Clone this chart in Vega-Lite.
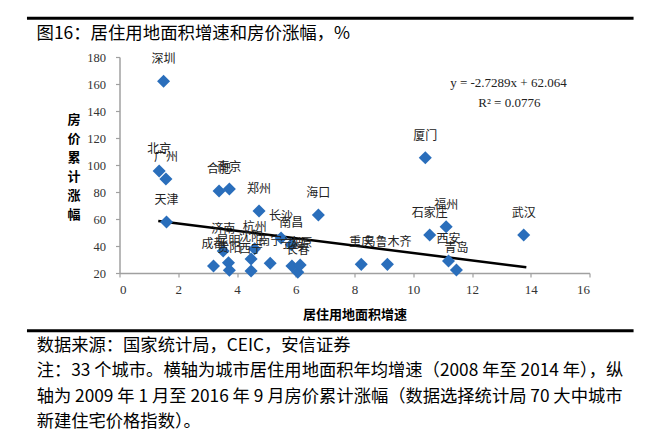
{
  "$schema": "https://vega.github.io/schema/vega-lite/v6.json",
  "autosize": {"type": "none"},
  "width": 470,
  "height": 216,
  "padding": {"left": 119.5, "top": 57, "right": 73.5, "bottom": 172},
  "background": "white",
  "config": {
    "view": {"stroke": null},
    "axis": {
      "grid": false,
      "domainColor": "#a0a0a0",
      "domainWidth": 1.5,
      "tickColor": "#a0a0a0",
      "tickWidth": 1.2,
      "tickSize": 4,
      "labelFont": "Liberation Serif",
      "labelFontSize": 13,
      "labelColor": "#333333",
      "labelOverlap": false,
      "titleFont": "Noto Sans CJK SC",
      "titleFontWeight": "bold",
      "titleFontSize": 13,
      "titleColor": "#000000"
    },
    "text": {"font": "Noto Sans CJK SC"}
  },
  "title": {
    "text": "图16：居住用地面积增速和房价涨幅，%",
    "anchor": "start",
    "frame": "group",
    "dx": -83,
    "dy": 35,
    "fontSize": 17.4,
    "font": "Noto Sans CJK SC",
    "fontWeight": "normal",
    "color": "#000000",
    "offset": 9
  },
  "datasets": {
    "cities": [
      {"city": "深圳", "growth": 1.5, "price": 162},
      {"city": "北京", "growth": 1.35, "price": 95.6},
      {"city": "广州", "growth": 1.58, "price": 89.6},
      {"city": "天津", "growth": 1.6, "price": 57.8},
      {"city": "合肥", "growth": 3.39, "price": 80.7},
      {"city": "南京", "growth": 3.74, "price": 82.2},
      {"city": "郑州", "growth": 4.75, "price": 66},
      {"city": "海口", "growth": 6.77, "price": 63},
      {"city": "厦门", "growth": 10.41, "price": 105.4},
      {"city": "福州", "growth": 11.12, "price": 54.3},
      {"city": "石家庄", "growth": 10.56, "price": 48.1},
      {"city": "武汉", "growth": 13.76, "price": 48.1},
      {"city": "西安", "growth": 11.2, "price": 28.9},
      {"city": "青岛", "growth": 11.47, "price": 22.2},
      {"city": "重庆", "growth": 8.23, "price": 26.4},
      {"city": "乌鲁木齐", "growth": 9.12, "price": 26.4},
      {"city": "济南", "growth": 3.53, "price": 36.3},
      {"city": "杭州", "growth": 4.6, "price": 38},
      {"city": "成都", "growth": 3.2, "price": 25.2},
      {"city": "昆明", "growth": 3.71, "price": 27.6},
      {"city": "贵阳", "growth": 3.74, "price": 22},
      {"city": "沈阳", "growth": 4.48, "price": 30.4},
      {"city": "西宁", "growth": 4.48, "price": 21.5},
      {"city": "南宁", "growth": 5.13, "price": 27.2},
      {"city": "宁波", "growth": 5.87, "price": 25.2},
      {"city": "长春", "growth": 6.07, "price": 20.5},
      {"city": "太原", "growth": 6.15, "price": 25.9},
      {"city": "长沙", "growth": 5.5, "price": 46},
      {"city": "南昌", "growth": 5.85, "price": 41}
    ],
    "trend": [
      {"growth": 1.32, "price": 58.5},
      {"growth": 13.85, "price": 24.3}
    ],
    "one": [{}]
  },
  "layer": [
    {
      "data": {"name": "trend"},
      "mark": {"type": "line", "color": "#000000", "strokeWidth": 2.5},
      "encoding": {
        "x": {
          "field": "growth", "type": "quantitative",
          "scale": {"domain": [0, 16], "nice": false},
          "axis": {
            "values": [0, 2, 4, 6, 8, 10, 12, 14, 16],
            "title": "居住用地面积增速",
            "titlePadding": 12,
            "labelPadding": 6,
            "labelOverlap": false
          }
        },
        "y": {
          "field": "price", "type": "quantitative",
          "scale": {"domain": [20, 180], "nice": false},
          "axis": {
            "values": [20, 40, 60, 80, 100, 120, 140, 160, 180],
            "tickCount": 9,
            "labelOverlap": false,
            "labelFontSize": 12.5,
            "title": ["房", "价", "累", "计", "涨", "幅"],
            "titleAngle": 0,
            "titleAlign": "center",
            "titleBaseline": "middle",
            "titleLineHeight": 19,
            "titleX": -46,
            "titleY": 62,
            "labelPadding": 10
          }
        }
      }
    },
    {
      "data": {"name": "one"},
      "mark": {"type": "rule", "color": "#000000", "strokeWidth": 3},
      "encoding": {
        "x": {"datum": -3.15, "type": "quantitative", "scale": {"domain": [0, 16], "nice": false}},
        "x2": {"datum": 17.5},
        "y": {"datum": 208.7, "type": "quantitative", "scale": {"domain": [20, 180], "nice": false}}
      }
    },
    {
      "data": {"name": "one"},
      "mark": {"type": "rule", "color": "#000000", "strokeWidth": 3},
      "encoding": {
        "x": {"datum": -3.15, "type": "quantitative", "scale": {"domain": [0, 16], "nice": false}},
        "x2": {"datum": 17.5},
        "y": {"datum": -22.7, "type": "quantitative", "scale": {"domain": [20, 180], "nice": false}}
      }
    },
    {
      "data": {"name": "cities"},
      "mark": {"type": "point", "shape": "diamond", "filled": true, "size": 170, "opacity": 1, "color": "#2a6ebb"},
      "encoding": {
        "x": {"field": "growth", "type": "quantitative", "scale": {"domain": [0, 16], "nice": false}},
        "y": {"field": "price", "type": "quantitative", "scale": {"domain": [20, 180], "nice": false}}
      }
    },
    {
      "data": {"name": "cities"},
      "mark": {"type": "text", "dy": -22, "fontSize": 12, "color": "#222222", "baseline": "middle", "align": "center"},
      "encoding": {
        "x": {"field": "growth", "type": "quantitative", "scale": {"domain": [0, 16], "nice": false}},
        "y": {"field": "price", "type": "quantitative", "scale": {"domain": [20, 180], "nice": false}},
        "text": {"field": "city"}
      }
    },
    {
      "data": {"name": "one"},
      "mark": {"type": "text", "font": "Liberation Serif", "fontSize": 13, "color": "#222222", "align": "center", "baseline": "middle"},
      "encoding": {
        "x": {"datum": 13.24, "type": "quantitative", "scale": {"domain": [0, 16], "nice": false}},
        "y": {"datum": 160.7, "type": "quantitative", "scale": {"domain": [20, 180], "nice": false}},
        "text": {"value": "y = -2.7289x + 62.064"}
      }
    },
    {
      "data": {"name": "one"},
      "mark": {"type": "text", "font": "Liberation Serif", "fontSize": 13, "color": "#222222", "align": "center", "baseline": "middle"},
      "encoding": {
        "x": {"datum": 13.27, "type": "quantitative", "scale": {"domain": [0, 16], "nice": false}},
        "y": {"datum": 145.9, "type": "quantitative", "scale": {"domain": [20, 180], "nice": false}},
        "text": {"value": "R² = 0.0776"}
      }
    },
    {
      "data": {"name": "one"},
      "mark": {"type": "text", "fontSize": 17.3, "color": "#000000", "align": "left", "baseline": "top", "lineHeight": 25.5},
      "encoding": {
        "x": {"datum": -2.82, "type": "quantitative", "scale": {"domain": [0, 16], "nice": false}},
        "y": {"datum": -27.4, "type": "quantitative", "scale": {"domain": [20, 180], "nice": false}},
        "text": {"value": [
          "数据来源：国家统计局，CEIC，安信证券",
          "注：33 个城市。横轴为城市居住用地面积年均增速（2008 年至 2014 年），纵",
          "轴为 2009 年 1 月至 2016 年 9 月房价累计涨幅（数据选择统计局 70 大中城市",
          "新建住宅价格指数）。"
        ]}
      }
    }
  ]
}
